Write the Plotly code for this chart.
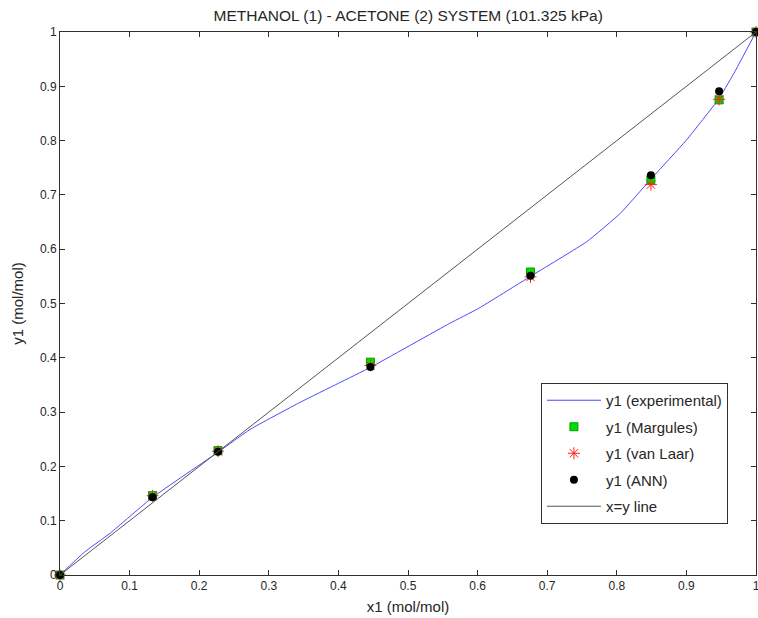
import plotly.graph_objects as go

# Experimental curve
x_exp = [0, 0.035, 0.072, 0.133, 0.228, 0.273, 0.345, 0.40, 0.447, 0.56, 0.60, 0.676,
         0.757, 0.805, 0.849, 0.90, 0.946, 0.967, 1.0]
y_exp = [0, 0.042, 0.077, 0.143, 0.227, 0.268, 0.318, 0.353, 0.383, 0.4635, 0.490, 0.550,
         0.614, 0.666, 0.729, 0.801, 0.876, 0.921, 1.0]

# Model points
x_model = [0, 0.133, 0.227, 0.446, 0.676, 0.849, 0.947, 1.0]
y_margules = [0, 0.146, 0.229, 0.392, 0.558, 0.728, 0.875, 1.0]
y_vanlaar = [0, 0.146, 0.228, 0.386, 0.549, 0.719, 0.876, 1.0]
y_ann = [0, 0.143, 0.227, 0.383, 0.551, 0.736, 0.891, 1.0]

x_diag = [0, 1]
y_diag = [0, 1]

tick_vals = [0, 0.1, 0.2, 0.3, 0.4, 0.5, 0.6, 0.7, 0.8, 0.9, 1]
tick_text = ["0", "0.1", "0.2", "0.3", "0.4", "0.5", "0.6", "0.7", "0.8", "0.9", "1"]

FONT = "Liberation Sans, Arial, sans-serif"

fig = go.Figure()
fig.add_trace(go.Scatter(x=x_exp, y=y_exp, mode="lines", name="y1 (experimental)",
                         line=dict(color="#4a4aff", width=1, shape="spline", smoothing=0.4),
                         legendgroup="a"))
fig.add_trace(go.Scatter(x=x_model, y=y_margules, mode="markers", name="y1 (Margules)",
                         marker=dict(symbol="square", size=8, color="#00dd00",
                                     line=dict(color="#00a000", width=1)),
                         cliponaxis=False, legendgroup="b"))
fig.add_trace(go.Scatter(x=x_model, y=y_vanlaar, mode="markers", name="y1 (van Laar)",
                         marker=dict(symbol="asterisk-open", size=10, color="#ff2020",
                                     line=dict(color="#ff2020", width=1)),
                         cliponaxis=False, legendgroup="c"))
fig.add_trace(go.Scatter(x=x_model, y=y_ann, mode="markers", name="y1 (ANN)",
                         marker=dict(symbol="circle", size=8, color="black"),
                         cliponaxis=False, legendgroup="d"))
fig.add_trace(go.Scatter(x=x_diag, y=y_diag, mode="lines", name="x=y line",
                         line=dict(color="#555555", width=1), legendgroup="e"))

axis_common = dict(
    range=[0, 1], tickvals=tick_vals, ticktext=tick_text,
    ticks="inside", ticklen=5, tickcolor="#303030", tickwidth=1,
    showline=True, linecolor="#303030", linewidth=1, mirror="ticks",
    showgrid=False, zeroline=False, ticklabeloverflow="allow", automargin=False,
    tickfont=dict(family=FONT, size=12, color="#262626"),
)

fig.update_layout(
    width=758, height=618,
    margin=dict(l=60, r=2, t=32, b=43),
    paper_bgcolor="white", plot_bgcolor="white",
    font=dict(family=FONT, size=12, color="#262626"),
    title=dict(text="METHANOL (1) - ACETONE (2) SYSTEM (101.325 kPa)",
               x=0.5385, xanchor="center", y=0.974, yanchor="middle",
               font=dict(family=FONT, size=15.5, color="#262626")),
    xaxis=dict(**axis_common, title=dict(text="x1 (mol/mol)", standoff=9,
                                         font=dict(family=FONT, size=15))),
    yaxis=dict(**axis_common, title=dict(text="y1 (mol/mol)", standoff=12,
                                         font=dict(family=FONT, size=15))),
    legend=dict(x=0.691, y=0.3536, xanchor="left", yanchor="top",
                bgcolor="white", bordercolor="#303030", borderwidth=1,
                font=dict(family=FONT, size=15, color="#262626"),
                tracegroupgap=4, itemwidth=54),
    showlegend=True,
)

fig.write_html("out.html")
